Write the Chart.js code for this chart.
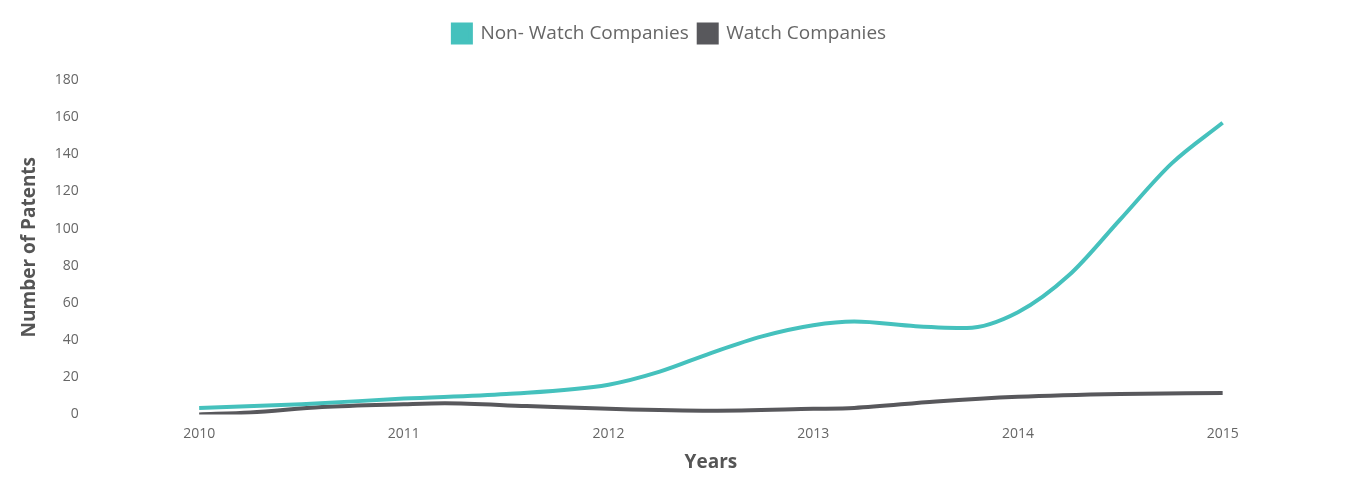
<!DOCTYPE html>
<html><head><meta charset="utf-8">
<script src="https://cdn.jsdelivr.net/npm/chart.js@4/dist/chart.umd.min.js"></script>
<style>body{margin:0;background:#fff}#w{width:1350px;height:500px}</style>
</head><body><div id="w"><canvas id="c"></canvas></div>
<script>
const yearTicks=[2010,2011,2012,2013,2014,2015];
const nonWatchX=[2010,2010.5,2011,2011.5,2012,2012.25,2012.5,2012.75,2013,2013.2,2013.5,2013.75,2014,2014.25,2014.5,2014.75,2015];
const nonWatchY=[3.5,5.5,8.5,11,16,23,33,42,48,50,47.5,46.5,55,75,105,135,157];
const watchX=[2010,2010.25,2010.6,2011,2011.2,2011.6,2012,2012.5,2013,2013.2,2013.6,2014,2014.5,2015];
const watchY=[0,1,4,5.5,6,4.5,3,2,3,3.5,7,9.5,11,11.5];
const pts=(xs,ys)=>xs.map((x,i)=>({x,y:ys[i]}));
Chart.defaults.font.family="'Open Sans'";
new Chart(document.getElementById('c'),{type:'line',
data:{datasets:[
{label:'Non- Watch Companies',data:pts(nonWatchX,nonWatchY),borderColor:'#45c1bd',backgroundColor:'#45c1bd',borderWidth:4,pointRadius:0,cubicInterpolationMode:'monotone'},
{label:'Watch Companies',data:pts(watchX,watchY),borderColor:'#58585c',backgroundColor:'#58585c',borderWidth:4,pointRadius:0,cubicInterpolationMode:'monotone'}]},
options:{responsive:true,maintainAspectRatio:false,animation:false,
layout:{padding:{left:14,right:25,top:14,bottom:22}},
plugins:{legend:{labels:{boxWidth:18,boxHeight:18,color:'#666',font:{size:19},padding:10}},tooltip:{enabled:false}},
scales:{
x:{type:'linear',min:2009.5,max:2015.5,grid:{display:false},border:{display:false},
afterBuildTicks:a=>{a.ticks=yearTicks.map(v=>({value:v}));},
ticks:{color:'#666',font:{size:14},callback:v=>String(v)},
title:{display:true,text:'Years',color:'#555',font:{size:19,weight:'bold'},padding:{top:6}}},
y:{min:0,max:180,grid:{display:false},border:{display:false},
ticks:{stepSize:20,color:'#666',font:{size:14},padding:10},
title:{display:true,text:'Number of Patents',color:'#555',font:{size:19,weight:'bold'}}}}},
plugins:[{id:'legendGap',beforeInit(chart){const l=chart.legend;const f=l.fit;l.fit=function(){f.call(this);this.height+=27;};}}]});
</script></body></html>
